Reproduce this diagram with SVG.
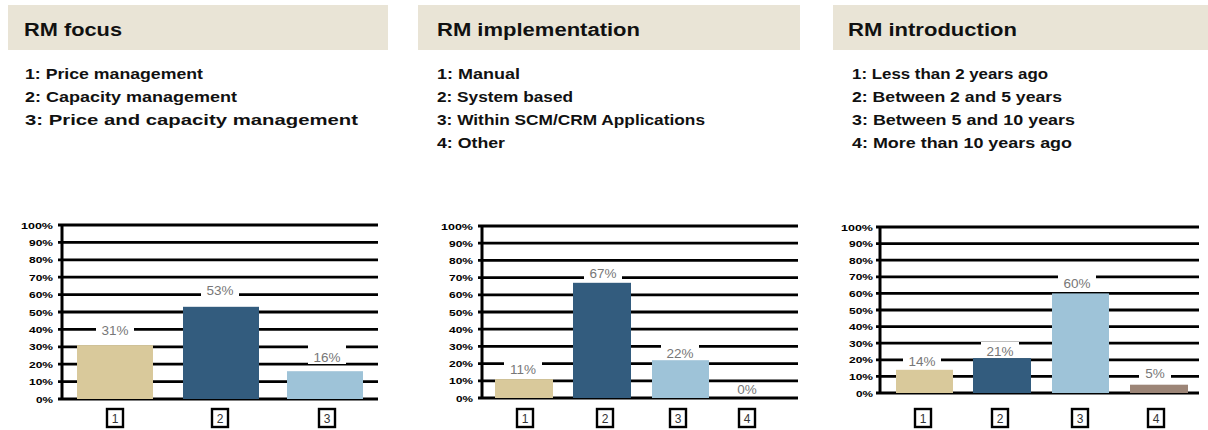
<svg xmlns="http://www.w3.org/2000/svg" width="1208" height="430" viewBox="0 0 1208 430">
<style>
.hdr{fill:#E9E4D6}
.title{font-family:"Liberation Sans",Arial,sans-serif;font-weight:bold;font-size:17.5px;fill:#111}
.item{font-family:"Liberation Sans",Arial,sans-serif;font-weight:bold;font-size:15px;fill:#111}
.grid{stroke:#000;stroke-width:2.8}
.axis{stroke:#000;stroke-width:3}
.ylab{font-family:"Liberation Sans",Arial,sans-serif;font-weight:bold;font-size:9.5px;fill:#000;text-anchor:end}
.val{font-family:"Liberation Sans",Arial,sans-serif;font-size:13.5px;fill:#777;text-anchor:middle}
.valbg{fill:#fff}
.cbox{fill:#fff;stroke:#000;stroke-width:2.4}
.cnum{font-family:"Liberation Sans",Arial,sans-serif;font-size:12px;fill:#333;text-anchor:middle}
.c1{fill:#D9C99B}
.c2{fill:#335C7E}
.c3{fill:#9EC3D8}
.c4{fill:#9C8577}
</style>

<!-- Panel 1 -->
<g id="panel-focus">
  <rect class="hdr" x="8" y="5" width="380" height="45"/>
  <text class="title" x="24" y="36" textLength="98" lengthAdjust="spacingAndGlyphs">RM focus</text>
  <text class="item" x="25" y="79" textLength="178" lengthAdjust="spacingAndGlyphs">1: Price management</text>
  <text class="item" x="25" y="102" textLength="212" lengthAdjust="spacingAndGlyphs">2: Capacity management</text>
  <text class="item" x="25" y="125" textLength="333" lengthAdjust="spacingAndGlyphs">3: Price and capacity management</text>
</g>
<g id="chart-focus">
  <g class="grid">
    <line x1="58" y1="225" x2="378" y2="225"/>
    <line x1="58" y1="242.4" x2="378" y2="242.4"/>
    <line x1="58" y1="259.8" x2="378" y2="259.8"/>
    <line x1="58" y1="277.2" x2="378" y2="277.2"/>
    <line x1="58" y1="294.6" x2="378" y2="294.6"/>
    <line x1="58" y1="312" x2="378" y2="312"/>
    <line x1="58" y1="329.4" x2="378" y2="329.4"/>
    <line x1="58" y1="346.8" x2="378" y2="346.8"/>
    <line x1="58" y1="364.2" x2="378" y2="364.2"/>
    <line x1="58" y1="381.6" x2="378" y2="381.6"/>
    <line x1="58" y1="399" x2="378" y2="399"/>
  </g>
  <line class="axis" x1="62" y1="224" x2="62" y2="400"/>
  <g>
    <text class="ylab" x="53" y="228.5" textLength="32" lengthAdjust="spacingAndGlyphs">100%</text>
    <text class="ylab" x="53" y="245.9" textLength="24" lengthAdjust="spacingAndGlyphs">90%</text>
    <text class="ylab" x="53" y="263.3" textLength="24" lengthAdjust="spacingAndGlyphs">80%</text>
    <text class="ylab" x="53" y="280.7" textLength="24" lengthAdjust="spacingAndGlyphs">70%</text>
    <text class="ylab" x="53" y="298.1" textLength="24" lengthAdjust="spacingAndGlyphs">60%</text>
    <text class="ylab" x="53" y="315.5" textLength="24" lengthAdjust="spacingAndGlyphs">50%</text>
    <text class="ylab" x="53" y="332.9" textLength="24" lengthAdjust="spacingAndGlyphs">40%</text>
    <text class="ylab" x="53" y="350.3" textLength="24" lengthAdjust="spacingAndGlyphs">30%</text>
    <text class="ylab" x="53" y="367.7" textLength="24" lengthAdjust="spacingAndGlyphs">20%</text>
    <text class="ylab" x="53" y="385.1" textLength="24" lengthAdjust="spacingAndGlyphs">10%</text>
    <text class="ylab" x="53" y="402.5" textLength="17" lengthAdjust="spacingAndGlyphs">0%</text>
  </g>
  <g id="focus-bar1">
    <rect class="c1" x="77" y="345.1" width="76" height="53.9"/>
    <rect class="valbg" x="96" y="322" width="38" height="16"/>
    <text class="val" x="115" y="335">31%</text>
    <rect class="cbox" x="107" y="409" width="16" height="18"/>
    <text class="cnum" x="115" y="422.5">1</text>
  </g>
  <g id="focus-bar2">
    <rect class="c2" x="183" y="306.8" width="76" height="92.2"/>
    <rect class="valbg" x="201" y="282" width="38" height="16"/>
    <text class="val" x="220" y="295">53%</text>
    <rect class="cbox" x="212" y="409" width="16" height="18"/>
    <text class="cnum" x="220" y="422.5">2</text>
  </g>
  <g id="focus-bar3">
    <rect class="c3" x="287" y="371.2" width="76" height="27.8"/>
    <rect class="valbg" x="308" y="342" width="38" height="22"/>
    <text class="val" x="327" y="362">16%</text>
    <rect class="cbox" x="319" y="409" width="16" height="18"/>
    <text class="cnum" x="327" y="422.5">3</text>
  </g>
</g>

<!-- Panel 2 -->
<g id="panel-implementation">
  <rect class="hdr" x="418" y="5" width="382" height="45"/>
  <text class="title" x="437" y="36" textLength="203" lengthAdjust="spacingAndGlyphs">RM implementation</text>
  <text class="item" x="437" y="79" textLength="83" lengthAdjust="spacingAndGlyphs">1: Manual</text>
  <text class="item" x="437" y="102" textLength="136" lengthAdjust="spacingAndGlyphs">2: System based</text>
  <text class="item" x="437" y="125" textLength="268" lengthAdjust="spacingAndGlyphs">3: Within SCM/CRM Applications</text>
  <text class="item" x="437" y="148" textLength="68" lengthAdjust="spacingAndGlyphs">4: Other</text>
</g>
<g id="chart-implementation">
  <g class="grid">
    <line x1="478" y1="226" x2="798" y2="226"/>
    <line x1="478" y1="243.2" x2="798" y2="243.2"/>
    <line x1="478" y1="260.4" x2="798" y2="260.4"/>
    <line x1="478" y1="277.6" x2="798" y2="277.6"/>
    <line x1="478" y1="294.8" x2="798" y2="294.8"/>
    <line x1="478" y1="312" x2="798" y2="312"/>
    <line x1="478" y1="329.2" x2="798" y2="329.2"/>
    <line x1="478" y1="346.4" x2="798" y2="346.4"/>
    <line x1="478" y1="363.6" x2="798" y2="363.6"/>
    <line x1="478" y1="380.8" x2="798" y2="380.8"/>
    <line x1="478" y1="398" x2="798" y2="398"/>
  </g>
  <line class="axis" x1="482" y1="225" x2="482" y2="399"/>
  <g>
    <text class="ylab" x="473" y="229.5" textLength="32" lengthAdjust="spacingAndGlyphs">100%</text>
    <text class="ylab" x="473" y="246.7" textLength="24" lengthAdjust="spacingAndGlyphs">90%</text>
    <text class="ylab" x="473" y="263.9" textLength="24" lengthAdjust="spacingAndGlyphs">80%</text>
    <text class="ylab" x="473" y="281.1" textLength="24" lengthAdjust="spacingAndGlyphs">70%</text>
    <text class="ylab" x="473" y="298.3" textLength="24" lengthAdjust="spacingAndGlyphs">60%</text>
    <text class="ylab" x="473" y="315.5" textLength="24" lengthAdjust="spacingAndGlyphs">50%</text>
    <text class="ylab" x="473" y="332.7" textLength="24" lengthAdjust="spacingAndGlyphs">40%</text>
    <text class="ylab" x="473" y="349.9" textLength="24" lengthAdjust="spacingAndGlyphs">30%</text>
    <text class="ylab" x="473" y="367.1" textLength="24" lengthAdjust="spacingAndGlyphs">20%</text>
    <text class="ylab" x="473" y="384.3" textLength="24" lengthAdjust="spacingAndGlyphs">10%</text>
    <text class="ylab" x="473" y="401.5" textLength="17" lengthAdjust="spacingAndGlyphs">0%</text>
  </g>
  <g id="impl-bar1">
    <rect class="c1" x="495" y="379.1" width="58" height="18.9"/>
    <rect class="valbg" x="504" y="360" width="38" height="17"/>
    <text class="val" x="523" y="373.5">11%</text>
    <rect class="cbox" x="517" y="409" width="16" height="18"/>
    <text class="cnum" x="525" y="422.5">1</text>
  </g>
  <g id="impl-bar2">
    <rect class="c2" x="573" y="282.8" width="58" height="115.2"/>
    <rect class="valbg" x="584" y="264" width="38" height="17"/>
    <text class="val" x="603" y="277.5">67%</text>
    <rect class="cbox" x="597" y="409" width="16" height="18"/>
    <text class="cnum" x="605" y="422.5">2</text>
  </g>
  <g id="impl-bar3">
    <rect class="c3" x="652" y="360.2" width="57" height="37.8"/>
    <rect class="valbg" x="661" y="344" width="38" height="15"/>
    <text class="val" x="680" y="357.5">22%</text>
    <rect class="cbox" x="670" y="409" width="16" height="18"/>
    <text class="cnum" x="678" y="422.5">3</text>
  </g>
  <g id="impl-bar4">
    <rect class="valbg" x="731" y="383" width="32" height="13"/>
    <text class="val" x="747" y="393.5">0%</text>
    <rect class="cbox" x="739" y="409" width="16" height="18"/>
    <text class="cnum" x="747" y="422.5">4</text>
  </g>
</g>

<!-- Panel 3 -->
<g id="panel-introduction">
  <rect class="hdr" x="833" y="5" width="375" height="45"/>
  <text class="title" x="848" y="36" textLength="169" lengthAdjust="spacingAndGlyphs">RM introduction</text>
  <text class="item" x="852" y="79" textLength="196" lengthAdjust="spacingAndGlyphs">1: Less than 2 years ago</text>
  <text class="item" x="852" y="102" textLength="210" lengthAdjust="spacingAndGlyphs">2: Between 2 and 5 years</text>
  <text class="item" x="852" y="125" textLength="223" lengthAdjust="spacingAndGlyphs">3: Between 5 and 10 years</text>
  <text class="item" x="852" y="148" textLength="220" lengthAdjust="spacingAndGlyphs">4: More than 10 years ago</text>
</g>
<g id="chart-introduction">
  <g class="grid">
    <line x1="876" y1="227" x2="1199" y2="227"/>
    <line x1="876" y1="243.6" x2="1199" y2="243.6"/>
    <line x1="876" y1="260.2" x2="1199" y2="260.2"/>
    <line x1="876" y1="276.8" x2="1199" y2="276.8"/>
    <line x1="876" y1="293.4" x2="1199" y2="293.4"/>
    <line x1="876" y1="310" x2="1199" y2="310"/>
    <line x1="876" y1="326.6" x2="1199" y2="326.6"/>
    <line x1="876" y1="343.2" x2="1199" y2="343.2"/>
    <line x1="876" y1="359.8" x2="1199" y2="359.8"/>
    <line x1="876" y1="376.4" x2="1199" y2="376.4"/>
    <line x1="876" y1="393" x2="1199" y2="393"/>
  </g>
  <line class="axis" x1="880" y1="226" x2="880" y2="394"/>
  <g>
    <text class="ylab" x="873" y="230.5" textLength="32" lengthAdjust="spacingAndGlyphs">100%</text>
    <text class="ylab" x="873" y="247.1" textLength="24" lengthAdjust="spacingAndGlyphs">90%</text>
    <text class="ylab" x="873" y="263.7" textLength="24" lengthAdjust="spacingAndGlyphs">80%</text>
    <text class="ylab" x="873" y="280.3" textLength="24" lengthAdjust="spacingAndGlyphs">70%</text>
    <text class="ylab" x="873" y="296.9" textLength="24" lengthAdjust="spacingAndGlyphs">60%</text>
    <text class="ylab" x="873" y="313.5" textLength="24" lengthAdjust="spacingAndGlyphs">50%</text>
    <text class="ylab" x="873" y="330.1" textLength="24" lengthAdjust="spacingAndGlyphs">40%</text>
    <text class="ylab" x="873" y="346.7" textLength="24" lengthAdjust="spacingAndGlyphs">30%</text>
    <text class="ylab" x="873" y="363.3" textLength="24" lengthAdjust="spacingAndGlyphs">20%</text>
    <text class="ylab" x="873" y="379.9" textLength="24" lengthAdjust="spacingAndGlyphs">10%</text>
    <text class="ylab" x="873" y="396.5" textLength="17" lengthAdjust="spacingAndGlyphs">0%</text>
  </g>
  <g id="intro-bar1">
    <rect class="c1" x="896" y="369.8" width="57" height="23.2"/>
    <rect class="valbg" x="903" y="352" width="38" height="16"/>
    <text class="val" x="922" y="365.5">14%</text>
    <rect class="cbox" x="915" y="409" width="16" height="18"/>
    <text class="cnum" x="923" y="422.5">1</text>
  </g>
  <g id="intro-bar2">
    <rect class="c2" x="973" y="358.1" width="58" height="34.9"/>
    <rect class="valbg" x="981" y="342" width="38" height="15"/>
    <text class="val" x="1000" y="355.5">21%</text>
    <rect class="cbox" x="992" y="409" width="16" height="18"/>
    <text class="cnum" x="1000" y="422.5">2</text>
  </g>
  <g id="intro-bar3">
    <rect class="c3" x="1052" y="293.4" width="57" height="99.6"/>
    <rect class="valbg" x="1058" y="273" width="38" height="18"/>
    <text class="val" x="1077" y="287.5">60%</text>
    <rect class="cbox" x="1072" y="409" width="16" height="18"/>
    <text class="cnum" x="1080" y="422.5">3</text>
  </g>
  <g id="intro-bar4">
    <rect class="c4" x="1130" y="384.7" width="58" height="8.3"/>
    <rect class="valbg" x="1139" y="364" width="32" height="16"/>
    <text class="val" x="1155" y="377.5">5%</text>
    <rect class="cbox" x="1148" y="409" width="16" height="18"/>
    <text class="cnum" x="1156" y="422.5">4</text>
  </g>
</g>
</svg>
